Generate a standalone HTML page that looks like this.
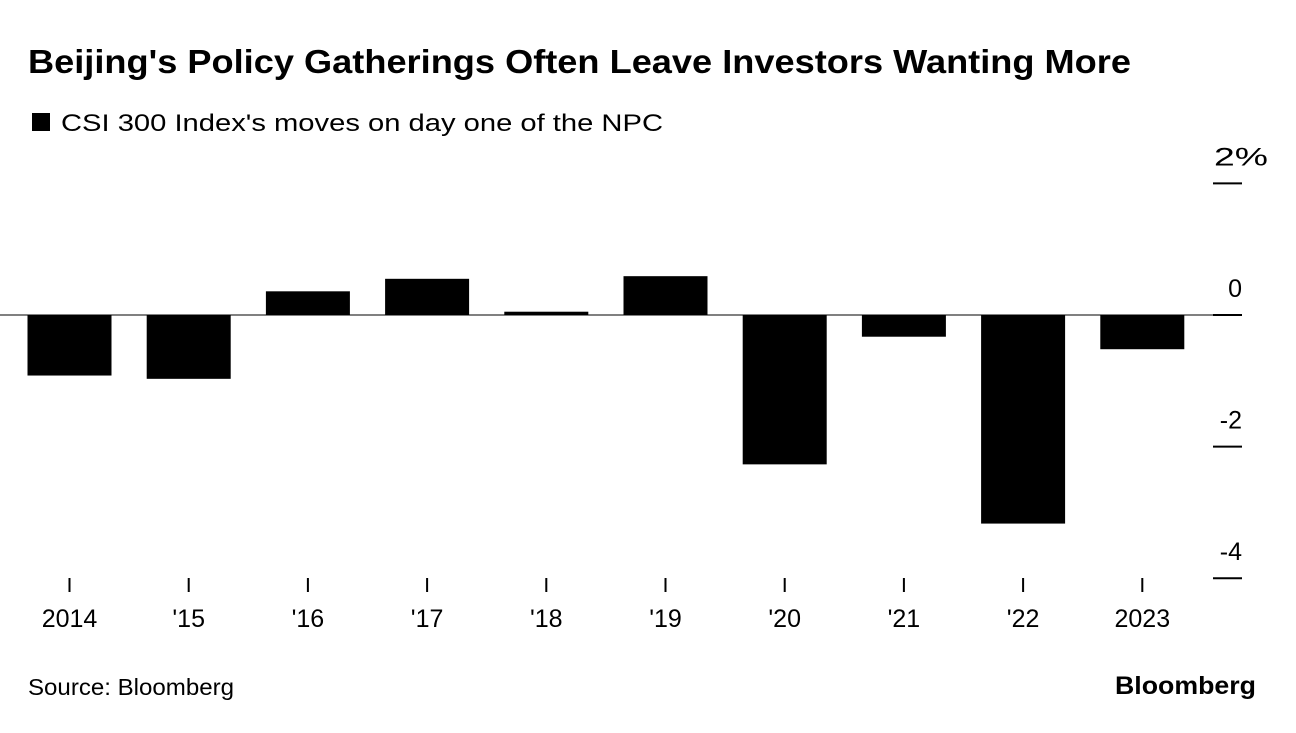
<!DOCTYPE html>
<html><head><meta charset="utf-8"><style>
body{margin:0;background:#fff;width:1296px;height:728px;overflow:hidden;font-family:"Liberation Sans",sans-serif;}
</style></head><body>
<svg width="1296" height="728" xmlns="http://www.w3.org/2000/svg">
<text x="28" y="73" font-size="33" font-weight="bold" fill="#000" textLength="1103" lengthAdjust="spacingAndGlyphs">Beijing's Policy Gatherings Often Leave Investors Wanting More</text>
<rect x="32" y="113" width="18" height="18" fill="#000"/>
<text x="61" y="131" font-size="24" fill="#000" textLength="602" lengthAdjust="spacingAndGlyphs">CSI 300 Index's moves on day one of the NPC</text>
<g id="bars"></g>
<g id="axes"></g>
<text x="28" y="695" font-size="23" fill="#000" textLength="206" lengthAdjust="spacingAndGlyphs">Source: Bloomberg</text>
<text x="1115" y="694" font-size="25" font-weight="bold" fill="#000" textLength="141" lengthAdjust="spacingAndGlyphs">Bloomberg</text>
</svg>
<script>
const categories=["2014","'15","'16","'17","'18","'19","'20","'21","'22","2023"];
const values=[-0.92,-0.97,0.36,0.55,0.05,0.59,-2.27,-0.33,-3.17,-0.52];
const yTicks=[2,0,-2,-4];
const yTickLabels=["2%","0","-2","-4"];
const NS="http://www.w3.org/2000/svg";
const y=v=>315-v*65.8;
const x=i=>69.5+i*119.2;
const bars=document.getElementById('bars'),axes=document.getElementById('axes');
function mk(tag,attrs,parent){const e=document.createElementNS(NS,tag);for(const k in attrs)e.setAttribute(k,attrs[k]);parent.appendChild(e);return e;}
values.forEach((v,i)=>{
  const r=mk('rect',{x:x(i)-42,y:Math.min(y(v),y(0)),width:84,height:Math.max(1,Math.abs(y(v)-y(0))),fill:'#000'},bars);
  
  
  const t=mk('line',{x1:x(i),x2:x(i),y1:578,y2:592,stroke:'#000','stroke-width':2},axes);
  
  
  const l=mk('text',{x:x(i),y:627,'font-size':25,'text-anchor':'middle',fill:'#000'},axes);
  l.textContent=categories[i];
  
  
});
const base=mk('line',{x1:0,x2:1214,y1:y(0),y2:y(0),stroke:'#000','stroke-width':1},axes);


yTicks.forEach((v,i)=>{
  const t=mk('line',{x1:1213,x2:1242,y1:y(v),y2:y(v),stroke:'#000','stroke-width':2},axes);
  
  
  const attrs={x:v===2?1214:1242,y:y(v)-18,'font-size':25,'text-anchor':v===2?'start':'end',fill:'#000'};
  if(v===2){attrs.textLength=54;attrs.lengthAdjust='spacingAndGlyphs';}
  const l=mk('text',attrs,axes);
  l.textContent=yTickLabels[i];
  
  
});
</script>
</body></html>
